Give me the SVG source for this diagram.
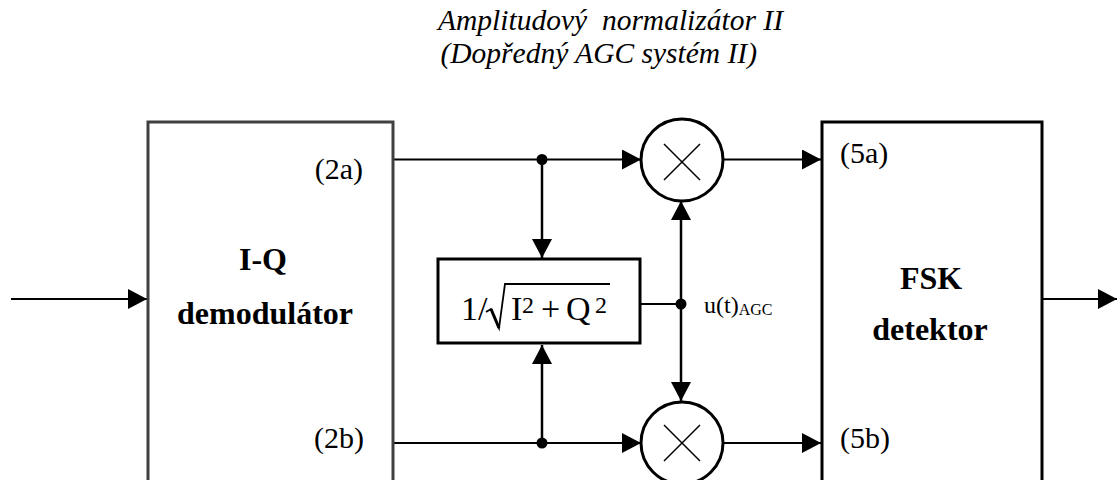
<svg xmlns="http://www.w3.org/2000/svg" width="1117" height="480" viewBox="0 0 1117 480">
<style>
.title{font-family:"Liberation Serif","Times New Roman",serif;font-style:italic;font-size:29.5px;fill:#000;white-space:pre}
.lbl{font-family:"Liberation Serif","Times New Roman",serif;font-size:30px;fill:#000}
.bold{font-family:"Liberation Serif","Times New Roman",serif;font-weight:bold;font-size:32px;fill:#000}
.math{font-family:"Liberation Serif","Times New Roman",serif;font-size:34px;fill:#000}
.sup{font-family:"Liberation Serif","Times New Roman",serif;font-size:24px;fill:#000}
.small{font-family:"Liberation Serif","Times New Roman",serif;font-size:24px;fill:#000}
.box{fill:#fff;stroke:#000;stroke-width:3}
.wire{fill:none;stroke:#000;stroke-width:1.8}
.vwire{fill:none;stroke:#000;stroke-width:2.5}
.dot{fill:#000}
</style>
<defs>
<marker id="arr" markerUnits="userSpaceOnUse" markerWidth="19" markerHeight="20" refX="19" refY="10" orient="auto">
<path d="M0,0 L19,10 L0,20 z" fill="#000"/>
</marker>
</defs>

<g id="title">
<text class="title" x="783" y="30" text-anchor="end" xml:space="preserve">Amplitudový  normalizátor II</text>
<text class="title" x="757" y="63" text-anchor="end">(Dopředný AGC systém II)</text>
</g>

<g id="connectors">
<line class="wire" x1="11" y1="299" x2="147" y2="299" marker-end="url(#arr)"/>
<line class="wire" x1="394" y1="159.5" x2="641" y2="159.5" marker-end="url(#arr)"/>
<line class="vwire" x1="542" y1="159.5" x2="542" y2="258" marker-end="url(#arr)"/>
<line class="wire" x1="723" y1="159.5" x2="821" y2="159.5" marker-end="url(#arr)"/>
<line class="wire" x1="394" y1="443" x2="641" y2="443" marker-end="url(#arr)"/>
<line class="vwire" x1="542" y1="443" x2="542" y2="345" marker-end="url(#arr)"/>
<line class="wire" x1="723" y1="443" x2="821" y2="443" marker-end="url(#arr)"/>
<line class="wire" x1="641" y1="304" x2="681" y2="304"/>
<line class="vwire" x1="681" y1="304" x2="681" y2="201" marker-end="url(#arr)"/>
<line class="vwire" x1="681" y1="304" x2="681" y2="401" marker-end="url(#arr)"/>
<line class="wire" x1="1043" y1="299" x2="1117" y2="299" marker-end="url(#arr)"/>
<circle class="dot" cx="542" cy="159.5" r="5.5"/>
<circle class="dot" cx="542" cy="443" r="5.5"/>
<circle class="dot" cx="681" cy="304" r="5.5"/>
<text class="small" x="704" y="313">u(t)<tspan font-size="16" dy="2">AGC</tspan></text>
</g>

<g id="iq-demodulator">
<rect x="148" y="122" width="245" height="370" fill="#fff" stroke="#404040" stroke-width="3"/>
<text class="bold" x="263" y="270" text-anchor="middle">I-Q</text>
<text class="bold" x="265" y="324" text-anchor="middle">demodulátor</text>
<text class="lbl" x="363" y="179" text-anchor="end">(2a)</text>
<text class="lbl" x="364" y="448" text-anchor="end">(2b)</text>
</g>

<g id="normalizer">
<rect class="box" x="438" y="259" width="202" height="84"/>
<text class="math" x="461" y="320">1/</text>
<path d="M486,312 L491,309 L499,328 L505,284 L610,284" fill="none" stroke="#000" stroke-width="1.8"/>
<path d="M491,309 L499,328" fill="none" stroke="#000" stroke-width="3"/>
<text class="math" x="511" y="320">I</text>
<text class="sup" x="522" y="313">2</text>
<text class="math" x="541" y="320">+</text>
<text class="math" x="566" y="320">Q</text>
<text class="sup" x="595" y="313">2</text>
</g>

<g id="mult-top">
<circle cx="682" cy="160" r="41" fill="#fff" stroke="#000" stroke-width="3"/>
<path d="M664,144 L700,180 M700,144 L664,180" stroke="#000" stroke-width="1.5"/>
</g>

<g id="mult-bottom">
<circle cx="682" cy="443" r="41" fill="#fff" stroke="#000" stroke-width="3"/>
<path d="M664,425 L700,461 M700,425 L664,461" stroke="#000" stroke-width="1.5"/>
</g>

<g id="fsk-detector">
<rect class="box" x="822" y="122" width="220" height="370"/>
<text class="bold" x="931" y="289" text-anchor="middle">FSK</text>
<text class="bold" x="930" y="340" text-anchor="middle">detektor</text>
<text class="lbl" x="840" y="163">(5a)</text>
<text class="lbl" x="840" y="448">(5b)</text>
</g>
</svg>
